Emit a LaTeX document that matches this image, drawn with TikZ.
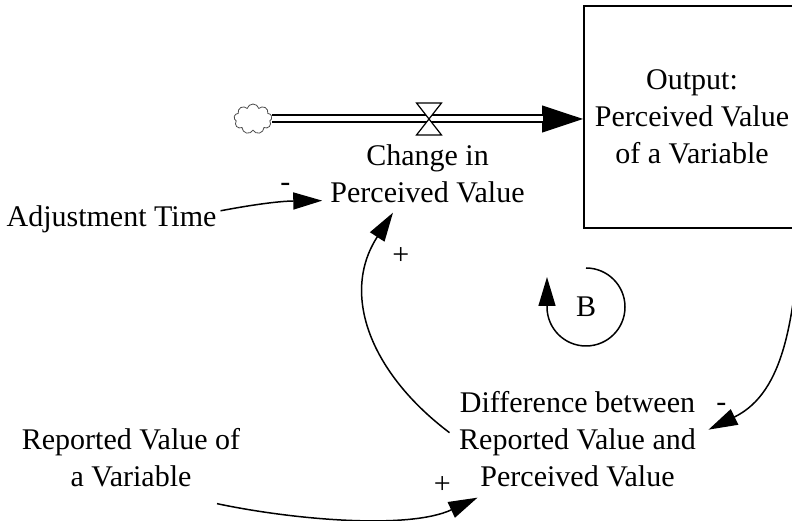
\documentclass[tikz,border=0pt]{standalone}
\usepackage{fontspec}
\setmainfont{Liberation Serif}
\usetikzlibrary{arrows.meta,shapes.symbols}

\begin{document}
\begin{tikzpicture}[x=1pt, y=1pt, font=\fontsize{30}{37}\selectfont,
  var/.style={align=center, inner sep=2pt, anchor=base},
  stock/.style={shape=rectangle, draw, line width=2pt, minimum width=216pt, minimum height=222pt, align=center},
  link/.style={-{Triangle[length=29pt,width=17pt]}, line width=1.5pt},
  pipe/.style={double, double distance=5pt, line width=2pt},
  sign/.style={inner sep=2pt}]
\useasboundingbox (0,0) rectangle (792,521);
\node [stock] (box) at (692,404) {Output:\\Perceived Value\\of a Variable};
\node [shape=cloud, draw=black!70, line width=0.8pt, cloud puffs=9, aspect=1.2, minimum width=38pt, minimum height=30pt, inner sep=0pt] (cloud) at (253,402) {};
\coordinate (valve) at (429,402);
\node [var] (change) at (427.5,318) {Change in\\Perceived Value};
\node [var] (adjtime) at (111.5,294) {Adjustment Time};
\node [var] (diff) at (577.5,34) {Difference between\\Reported Value and\\Perceived Value};
\node [var] (reported) at (131,34) {Reported Value of\\a Variable};
\node (loopB) at (586,214) {B};

% the flow into the stock
\draw[-{Triangle[length=41pt,width=27pt]}, line width=1pt] (valve) -- (box.west |- valve);
\draw[pipe, shorten >=40pt] (cloud.east) -- (box.west |- cloud.east);
\draw[fill=white, line width=1.2pt] (valve) ++(-12.5,16) -- ++(25,0) -- ++(-25,-32) -- ++(25,0) -- cycle;

% links
\draw[link] ([shift={(2,9)}]adjtime.east) to [bend left=5] node [sign, pos=0.65, above=8pt] (minusA) {-} ([shift={(-6,5)}]change.south west);
\draw[link] ([shift={(-7.5,7)}]diff.west) to [out=143, in=237, looseness=1.1] node [sign, pos=0.85, right=15pt, yshift=-7pt] (plusA) {+} ([shift={(-34.5,-7)}]change.south);
\draw[link] ([shift={(86,-14)}]reported.south) to [out=-12, in=205, looseness=0.75] node [sign, pos=0.9, above=10pt, xshift=-13pt] (plusB) {+} ([shift={(20.5,-8)}]diff.south west);
\draw[link] (box.south east) to [out=-95, in=26] node [sign, pos=0.8, left=18pt, yshift=-5pt] (minusB) {-} ([shift={(10.5,10)}]diff.east);
\draw[link] ([yshift=39pt]loopB.center) arc [start angle=90, end angle=-180, radius=39pt] -- ++(0,30);
\end{tikzpicture}
\end{document}
